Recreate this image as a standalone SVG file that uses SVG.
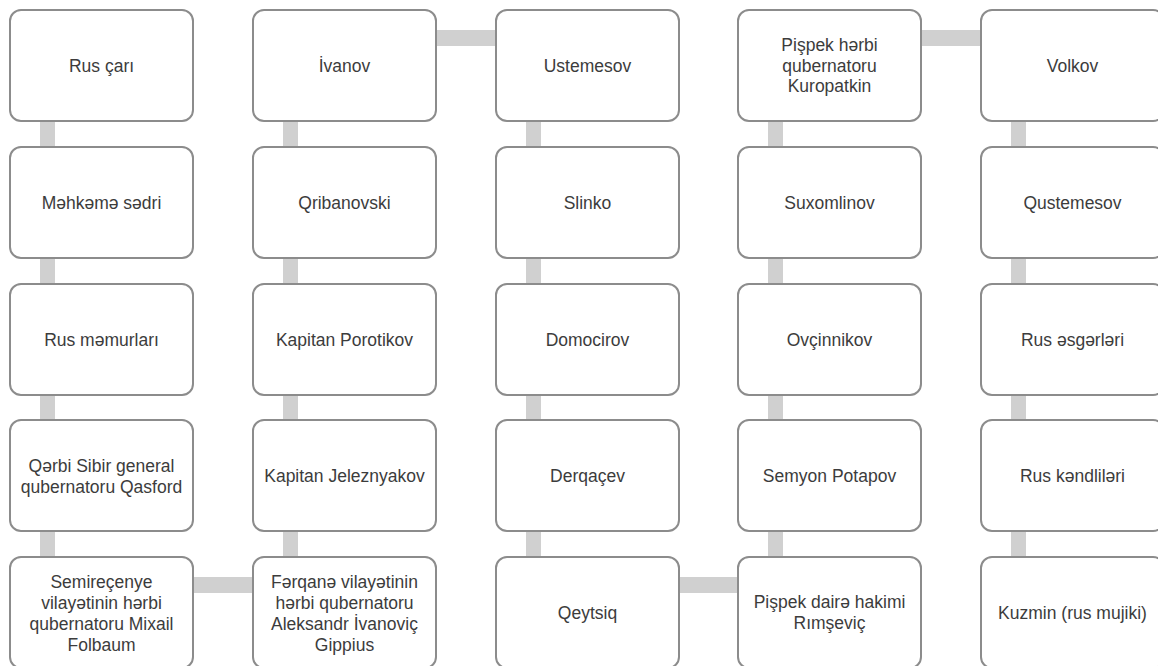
<svg xmlns="http://www.w3.org/2000/svg" width="1158" height="666" viewBox="0 0 1158 666">
<style>
.box{fill:#ffffff;stroke:#8c8c8c;stroke-width:2}
.con{fill:#d0d0d0}
text{font-family:"Liberation Sans",Arial,sans-serif;font-size:17.5px;fill:#3c3c3c;text-anchor:middle;dominant-baseline:central}
</style>
<rect width="1158" height="666" fill="#ffffff"/>
<g id="connectors">
<rect class="con" x="40" y="121" width="15" height="26"/>
<rect class="con" x="40" y="258" width="15" height="26"/>
<rect class="con" x="40" y="395" width="15" height="26"/>
<rect class="con" x="40" y="531" width="15" height="26"/>
<rect class="con" x="193" y="577" width="60" height="16"/>
<rect class="con" x="283" y="121" width="15" height="26"/>
<rect class="con" x="283" y="258" width="15" height="26"/>
<rect class="con" x="283" y="395" width="15" height="26"/>
<rect class="con" x="283" y="531" width="15" height="26"/>
<rect class="con" x="436" y="30" width="60" height="16"/>
<rect class="con" x="526" y="121" width="15" height="26"/>
<rect class="con" x="526" y="258" width="15" height="26"/>
<rect class="con" x="526" y="395" width="15" height="26"/>
<rect class="con" x="526" y="531" width="15" height="26"/>
<rect class="con" x="679" y="577" width="59" height="16"/>
<rect class="con" x="768" y="121" width="15" height="26"/>
<rect class="con" x="768" y="258" width="15" height="26"/>
<rect class="con" x="768" y="395" width="15" height="26"/>
<rect class="con" x="768" y="531" width="15" height="26"/>
<rect class="con" x="921" y="30" width="60" height="16"/>
<rect class="con" x="1011" y="121" width="15" height="26"/>
<rect class="con" x="1011" y="258" width="15" height="26"/>
<rect class="con" x="1011" y="395" width="15" height="26"/>
<rect class="con" x="1011" y="531" width="15" height="26"/>
</g>
<g id="n1"><rect class="box" x="10" y="10" width="183" height="111" rx="11"/><text x="101.5" y="65.5">Rus çarı</text></g>
<g id="n2"><rect class="box" x="10" y="147" width="183" height="111" rx="11"/><text x="101.5" y="202.5">Məhkəmə sədri</text></g>
<g id="n3"><rect class="box" x="10" y="284" width="183" height="111" rx="11"/><text x="101.5" y="339.5">Rus məmurları</text></g>
<g id="n4"><rect class="box" x="10" y="420" width="183" height="111" rx="11"/><text x="101.5" y="465.5">Qərbi Sibir general</text><text x="101.5" y="486.5">qubernatoru Qasford</text></g>
<g id="n5"><rect class="box" x="10" y="557" width="183" height="111" rx="11"/><text x="101.5" y="582">Semireçenye</text><text x="101.5" y="603">vilayətinin hərbi</text><text x="101.5" y="624">qubernatoru Mixail</text><text x="101.5" y="645">Folbaum</text></g>
<g id="n6"><rect class="box" x="253" y="10" width="183" height="111" rx="11"/><text x="344.5" y="65.5">İvanov</text></g>
<g id="n7"><rect class="box" x="253" y="147" width="183" height="111" rx="11"/><text x="344.5" y="202.5">Qribanovski</text></g>
<g id="n8"><rect class="box" x="253" y="284" width="183" height="111" rx="11"/><text x="344.5" y="339.5">Kapitan Porotikov</text></g>
<g id="n9"><rect class="box" x="253" y="420" width="183" height="111" rx="11"/><text x="344.5" y="475.5">Kapitan Jeleznyakov</text></g>
<g id="n10"><rect class="box" x="253" y="557" width="183" height="111" rx="11"/><text x="344.5" y="582">Fərqanə vilayətinin</text><text x="344.5" y="603">hərbi qubernatoru</text><text x="344.5" y="624">Aleksandr İvanoviç</text><text x="344.5" y="645">Gippius</text></g>
<g id="n11"><rect class="box" x="496" y="10" width="183" height="111" rx="11"/><text x="587.5" y="65.5">Ustemesov</text></g>
<g id="n12"><rect class="box" x="496" y="147" width="183" height="111" rx="11"/><text x="587.5" y="202.5">Slinko</text></g>
<g id="n13"><rect class="box" x="496" y="284" width="183" height="111" rx="11"/><text x="587.5" y="339.5">Domocirov</text></g>
<g id="n14"><rect class="box" x="496" y="420" width="183" height="111" rx="11"/><text x="587.5" y="475.5">Derqaçev</text></g>
<g id="n15"><rect class="box" x="496" y="557" width="183" height="111" rx="11"/><text x="587.5" y="612.5">Qeytsiq</text></g>
<g id="n16"><rect class="box" x="738" y="10" width="183" height="111" rx="11"/><text x="829.5" y="45">Pişpek hərbi</text><text x="829.5" y="65.5">qubernatoru</text><text x="829.5" y="86">Kuropatkin</text></g>
<g id="n17"><rect class="box" x="738" y="147" width="183" height="111" rx="11"/><text x="829.5" y="202.5">Suxomlinov</text></g>
<g id="n18"><rect class="box" x="738" y="284" width="183" height="111" rx="11"/><text x="829.5" y="339.5">Ovçinnikov</text></g>
<g id="n19"><rect class="box" x="738" y="420" width="183" height="111" rx="11"/><text x="829.5" y="475.5">Semyon Potapov</text></g>
<g id="n20"><rect class="box" x="738" y="557" width="183" height="111" rx="11"/><text x="829.5" y="602">Pişpek dairə hakimi</text><text x="829.5" y="623">Rımşeviç</text></g>
<g id="n21"><rect class="box" x="981" y="10" width="183" height="111" rx="11"/><text x="1072.5" y="65.5">Volkov</text></g>
<g id="n22"><rect class="box" x="981" y="147" width="183" height="111" rx="11"/><text x="1072.5" y="202.5">Qustemesov</text></g>
<g id="n23"><rect class="box" x="981" y="284" width="183" height="111" rx="11"/><text x="1072.5" y="339.5">Rus əsgərləri</text></g>
<g id="n24"><rect class="box" x="981" y="420" width="183" height="111" rx="11"/><text x="1072.5" y="475.5">Rus kəndliləri</text></g>
<g id="n25"><rect class="box" x="981" y="557" width="183" height="111" rx="11"/><text x="1072.5" y="612.5">Kuzmin (rus mujiki)</text></g>
</svg>
